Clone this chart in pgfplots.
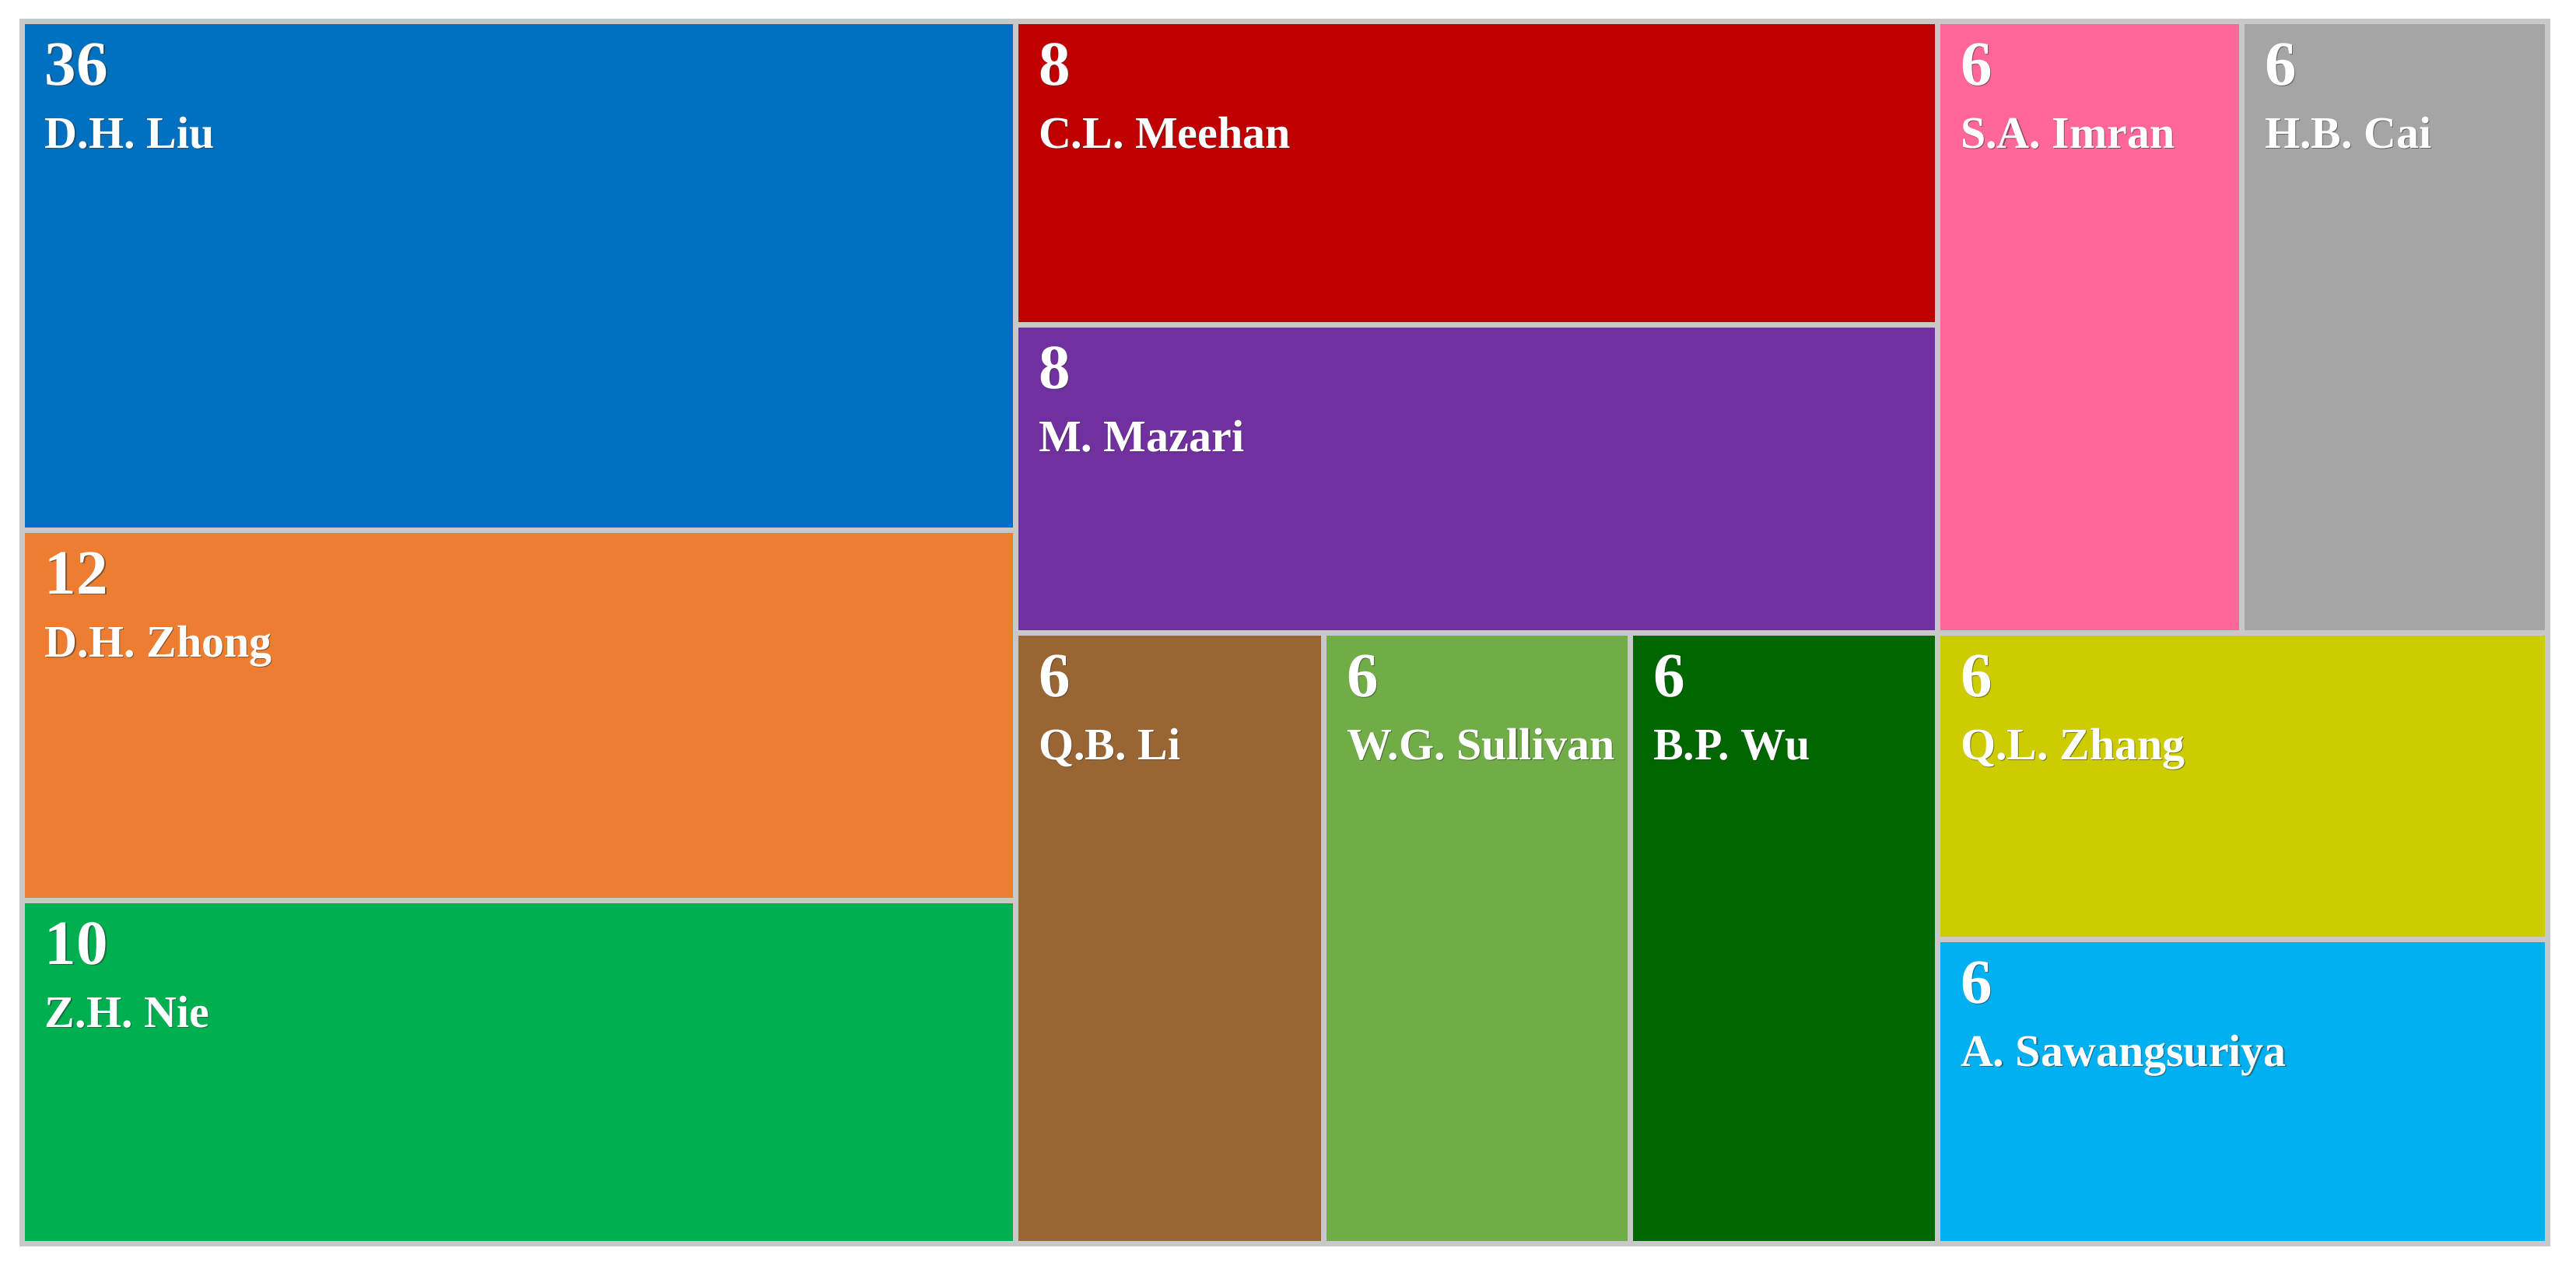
\documentclass[border=0pt]{standalone}
\usepackage{pgfplots}
\pgfplotsset{compat=1.18}
\usepackage{fontspec}
\setmainfont{Liberation Serif}
\definecolor{cLiu}{HTML}{0070C0}
\definecolor{cZhong}{HTML}{ED7D31}
\definecolor{cNie}{HTML}{00B050}
\definecolor{cMeehan}{HTML}{C00000}
\definecolor{cMazari}{HTML}{7030A0}
\definecolor{cImran}{HTML}{FF6699}
\definecolor{cCai}{HTML}{A5A5A5}
\definecolor{cQBLi}{HTML}{996633}
\definecolor{cSullivan}{HTML}{70AD47}
\definecolor{cWu}{HTML}{006600}
\definecolor{cZhang}{HTML}{CCCC00}
\definecolor{cSawang}{HTML}{00B0F0}
\definecolor{gapgray}{HTML}{C8C8C8}
% #1 colour, #2 x0, #3 y0, #4 x1, #5 y1, #6 value, #7 name
\newcommand{\tile}[7]{%
  \addplot[fill=#1, draw=gapgray, line width=0.7pt] coordinates {(#2,#3) (#4,#3) (#4,#5) (#2,#5)} -- cycle;
  \node[anchor=base west, inner sep=0pt, text=black!80, opacity=0.55, font=\bfseries\fontsize{8.1}{9}\selectfont, xshift=0.15pt, yshift=-0.15pt] at (axis cs:#2+28,#3+82) {#6};
  \node[anchor=base west, inner sep=0pt, text=white, font=\bfseries\fontsize{8.1}{9}\selectfont] at (axis cs:#2+28,#3+82) {#6};
  \node[anchor=base west, inner sep=0pt, text=black!80, opacity=0.55, font=\bfseries\fontsize{5.8}{6}\selectfont, xshift=0.12pt, yshift=-0.12pt] at (axis cs:#2+28,#3+163) {#7};
  \node[anchor=base west, inner sep=0pt, text=white, font=\bfseries\fontsize{5.8}{6}\selectfont] at (axis cs:#2+28,#3+163) {#7};
}
\begin{document}
\begin{tikzpicture}
\begin{axis}[
  scale only axis, width=331.1pt, height=163.9pt,
  xmin=0, xmax=3311, ymin=0, ymax=1639, y dir=reverse,
  hide axis, clip=false]
\addplot[draw=none, mark=none] coordinates {(0,0) (3311,1639)};
\tile{cLiu}{28}{27}{1305}{681}{36}{D.H. Liu}
\tile{cZhong}{28}{681}{1305}{1157}{12}{D.H. Zhong}
\tile{cNie}{28}{1157}{1305}{1598}{10}{Z.H. Nie}
\tile{cMeehan}{1305}{27}{2490}{417}{8}{C.L. Meehan}
\tile{cMazari}{1305}{417}{2490}{813}{8}{M. Mazari}
\tile{cQBLi}{1305}{813}{1701}{1598}{6}{Q.B. Li}
\tile{cSullivan}{1701}{813}{2095}{1598}{6}{W.G. Sullivan}
\tile{cWu}{2095}{813}{2490}{1598}{6}{B.P. Wu}
\tile{cImran}{2490}{27}{2881}{813}{6}{S.A. Imran}
\tile{cCai}{2881}{27}{3274}{813}{6}{H.B. Cai}
\tile{cZhang}{2490}{813}{3274}{1207}{6}{Q.L. Zhang}
\tile{cSawang}{2490}{1207}{3274}{1598}{6}{A. Sawangsuriya}
\end{axis}
\end{tikzpicture}
\end{document}
